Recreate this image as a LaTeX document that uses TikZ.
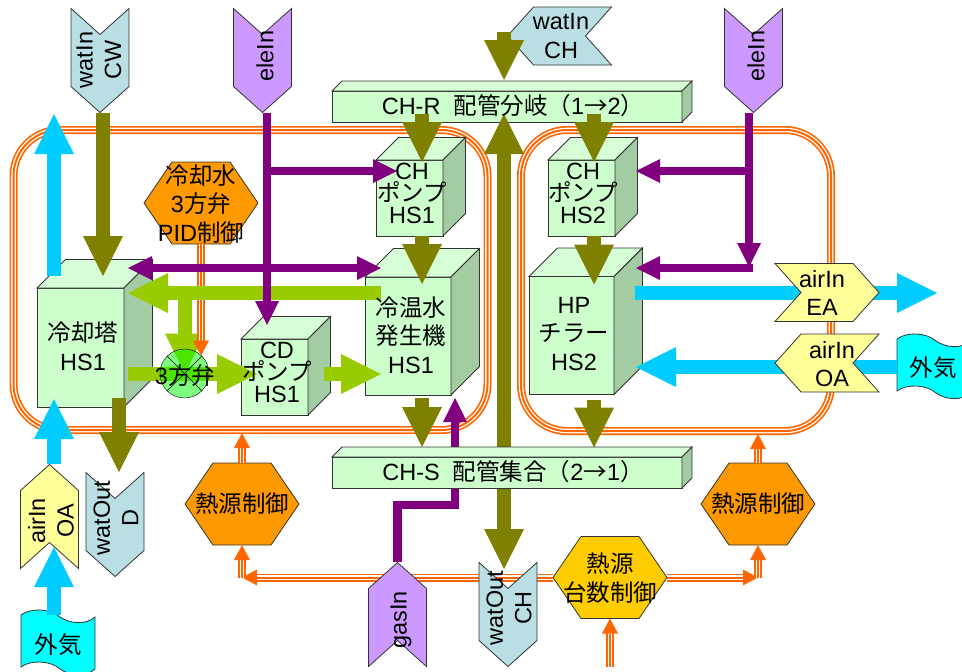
\documentclass[tikz,border=0pt]{standalone}
\usepackage{fontspec}
\setmainfont{Liberation Sans}
\newfontfamily\jp{Noto Sans CJK JP}
\usetikzlibrary{arrows.meta}

\definecolor{pipeOlive}{HTML}{808000}
\definecolor{pipePurple}{HTML}{800080}
\definecolor{pipeCyan}{HTML}{00CCFF}
\definecolor{pipeGreen}{HTML}{99CC00}
\definecolor{ctlOrange}{HTML}{FF6600}
\definecolor{faceGreen}{HTML}{CCFFCC}
\definecolor{topGreen}{HTML}{D6FFD6}
\definecolor{sideGreen}{HTML}{A3CCA3}
\definecolor{waterBlue}{HTML}{B9DFE4}
\definecolor{eleViolet}{HTML}{CC99FF}
\definecolor{airYellow}{HTML}{FFFF99}
\definecolor{hexOrange}{HTML}{FF9900}
\definecolor{hexGold}{HTML}{FFCC00}
\definecolor{skyCyan}{HTML}{00FFFF}

\tikzset{
  every node/.style={inner sep=0pt,outer sep=0pt,align=center,font=\fontsize{23.5}{28.5}\selectfont},
  pumpText/.style={font=\fontsize{23.5}{22}\selectfont},
  edgeLine/.style={draw=black!80,line width=0.8pt},
  frontFace/.style={edgeLine,fill=faceGreen},
  topFace/.style={edgeLine,fill=topGreen},
  sideFace/.style={edgeLine,fill=sideGreen},
  sigBoxV/.style={minimum width=58pt,minimum height=105pt},
  sigBoxH/.style={minimum width=105pt,minimum height=58pt},
  hexBox/.style={minimum width=114pt,minimum height=82pt},
  flowLine/.style={draw=#1,line width=14pt,-{Triangle[length=40pt,width=40pt,line width=0pt]}},
  eleLine/.style={draw=#1,line width=8.5pt,-{Triangle[length=24pt,width=24pt,line width=0pt]}},
  ctlLoop/.style={draw=ctlOrange,line width=8pt,postaction={draw=white,line width=4.6pt},postaction={draw=ctlOrange,line width=2pt}},
  ctlLine/.style={draw=ctlOrange,line width=8pt,shorten >=10pt,
    postaction={draw=white,line width=4.6pt,shorten >=10pt},
    postaction={draw=ctlOrange,line width=2pt,shorten >=0pt,-{Triangle[length=15pt,width=16pt,line width=0pt]}}},
}

\newcommand{\boxThreeD}[6]{%
  \node[frontFace,minimum width=#4pt,minimum height=#5pt] (#1) at (#2,#3) {};
  \draw[topFace] (#1.north west) -- ++(#6,-#6) -- ++(#4,0) -- (#1.north east) -- cycle;
  \draw[sideFace] (#1.north east) -- ++(#6,-#6) -- ++(0,#5) -- (#1.south east) -- cycle;
}
\newcommand{\sigBox}[6]{%
  \node[#6] (#1) at (#2,#3) {};
  \draw[edgeLine,fill=#5,shift={(#1.center)},rotate=#4] \sigShape;
}
\newcommand{\hexShape}[4]{%
  \node[hexBox] (#1) at (#2,#3) {};
  \draw[edgeLine,fill=#4] (#1.west) -- ([xshift=28pt]#1.north west) -- ([xshift=-28pt]#1.north east)
    -- (#1.east) -- ([xshift=-28pt]#1.south east) -- ([xshift=28pt]#1.south west) -- cycle;
}
\newcommand{\waveBox}[3]{%
  \node[minimum width=74pt,minimum height=52pt] (#1) at (#2,#3) {};
  \draw[edgeLine,fill=skyCyan,shift={(#1.center)}] (-37,-26) .. controls (-28,-33) and (-8,-33) .. (2,-24)
    .. controls (12,-17) and (28,-16) .. (37,-24) -- (37,28) .. controls (28,36) and (12,35) .. (2,28)
    .. controls (-8,19) and (-28,19) .. (-37,26) -- cycle;
}

\begin{document}
\begin{tikzpicture}[x=1pt,y=-1pt]
    \useasboundingbox (0,0) rectangle (962,672);
    \clip (0,0) rectangle (962,672);
    \def\sigShape{(-52,-29) -- (26,-29) -- (52,0) -- (26,29) -- (-52,29) -- (-26,0) -- cycle}

    % --- CONTROL LOOPS ---
    \node[ctlLoop,rounded corners=46pt,minimum width=474pt,minimum height=300pt] (loopA) at (250.5,280) {};
    \node[ctlLoop,rounded corners=46pt,minimum width=310pt,minimum height=301pt] (loopB) at (676,280.5) {};

    % --- CONTROLLERS ---
    \hexShape{hexA}{242}{504}{hexOrange}
    \hexShape{hexB}{758}{504}{hexOrange}
    \coordinate (ctlFeed) at (610,667);
    \draw[ctlLine] (hexA.north) -- ([yshift=-3pt]hexA.north |- loopA.south);
    \draw[ctlLine] (hexB.north) -- ([yshift=-3pt]hexB.north |- loopB.south);

    % --- UNITS ---
    \boxThreeD{tower}{80.5}{347.5}{87}{119}{28.5}
    \boxThreeD{pumpA}{409.5}{198}{67}{76}{22.5}
    \boxThreeD{chiller}{408}{336}{86}{118}{28.5}
    \boxThreeD{pumpCD}{274.5}{377}{67}{76}{22.5}
    \boxThreeD{pumpB}{581.5}{198}{67}{76}{22.5}
    \boxThreeD{heatPump}{571.5}{335.5}{85}{118}{28.5}
    \boxThreeD{headerR}{507}{106.5}{350}{31}{10}

    % --- SOURCES ---
    \sigBox{cwIn}{100}{60.5}{-90}{waterBlue}{sigBoxV}
    \sigBox{chIn}{559.5}{36}{180}{waterBlue}{sigBoxH}
    \sigBox{eleA}{262.5}{60.5}{-90}{eleViolet}{sigBoxV}
    \sigBox{eleB}{753.5}{60.5}{-90}{eleViolet}{sigBoxV}
    \sigBox{watD}{115}{524.5}{-90}{waterBlue}{sigBoxV}
    \waveBox{outA}{58}{641}
    \waveBox{outB}{934}{365}

    % --- AIR ---
    \coordinate (exhaustA) at (54,114);
    \coordinate (exhaustB) at (937,293);
    \draw[flowLine=pipeCyan] ([xshift=-26.5pt,yshift=12pt]tower.north) -- (exhaustA);
    \draw[flowLine=pipeCyan] ([xshift=21pt,yshift=42.5pt]heatPump.east) -- (exhaustB);
    \draw[flowLine=pipeCyan] ([yshift=-2pt]outB.west) -- ([xshift=22pt,yshift=-31.5pt]heatPump.east);
    \sigBox{airOA}{49.5}{516.5}{90}{airYellow}{sigBoxV}
    \draw[flowLine=pipeCyan] ([xshift=4.5pt]airOA.north) -- ([xshift=-26.5pt,yshift=8pt]tower.south);
    \draw[flowLine=pipeCyan] ([xshift=-4pt]outA.north) -- ([xshift=4.5pt,yshift=22pt]airOA.south);
    \sigBox{airEA}{827}{292.5}{0}{airYellow}{sigBoxH}
    \sigBox{airOB}{827}{363}{180}{airYellow}{sigBoxH}

    % --- CONTROL LINES ---
    \hexShape{hexMain}{610}{577.5}{hexGold}
    \draw[ctlLine] (ctlFeed) -- (hexMain.south);
    \draw[ctlLine] (hexMain.west) -- (hexMain.west -| hexA.south);
    \draw[ctlLine] (hexMain.west -| hexA.south) -- (hexA.south);
    \draw[ctlLine] (hexMain.east) -- (hexMain.east -| hexB.south);
    \draw[ctlLine] (hexMain.east -| hexB.south) -- (hexB.south);
    \sigBox{gasIn}{397.5}{614.5}{90}{eleViolet}{sigBoxV}
    \sigBox{watCH}{508}{614.5}{-90}{waterBlue}{sigBoxV}

    % --- COOLING WATER ---
    \hexShape{hexPID}{201}{203}{hexOrange}
    \node[minimum size=49pt,circle] (valve) at (184.5,373.5) {};
    \draw[flowLine=pipeGreen] (185,293) -- ([xshift=0.5pt]valve.center);
    \draw[flowLine=pipeGreen] ([xshift=4pt,yshift=-26.5pt]tower.east) -- ([xshift=16pt,yshift=3pt]pumpCD.west);
    \draw[fill=green,fill opacity=0.5] (valve.center) circle (24.5);
    \draw (valve.45) -- (valve.225);
    \draw (valve.135) -- (valve.315);
    \draw[ctlLine] (hexPID.south) -- (hexPID.south |- valve.47);
    \draw[flowLine=pipeGreen] ([xshift=16pt,yshift=43pt]chiller.west) -- ([xshift=4pt,yshift=54.5pt]tower.east);
    \draw[flowLine=pipeGreen] ([xshift=16pt,yshift=3pt]pumpCD.east) -- ([xshift=16pt,yshift=-38pt]chiller.west);

    % --- ELECTRICITY AND GAS ---
    \draw[eleLine=pipePurple] ([xshift=4.5pt]eleA.south) -- ([xshift=-7.5pt,yshift=14pt]pumpCD.north);
    \draw[eleLine=pipePurple] ([xshift=4.5pt,yshift=-58pt]eleA.south) -- ([xshift=21pt,yshift=27pt]pumpA.west);
    \draw[draw=pipePurple,line width=8.5pt,{Triangle[length=24pt,width=24pt,line width=0pt]}-{Triangle[length=24pt,width=24pt,line width=0pt]}]
      ([xshift=4pt,yshift=79.5pt]tower.east) -- ([xshift=16pt,yshift=68pt]chiller.west);
    \draw[eleLine=pipePurple] ([xshift=-4.5pt]eleB.south) -- ([xshift=-4.5pt,yshift=-154pt]eleB.south);
    \draw[eleLine=pipePurple] ([xshift=-4.5pt,yshift=-58pt]eleB.south) -- ([xshift=21pt,yshift=27pt]pumpB.east);
    \draw[eleLine=pipePurple] ([xshift=-0.5pt,yshift=-155pt]eleB.south) -- ([xshift=22pt,yshift=67.5pt]heatPump.east);
    \draw[eleLine=pipePurple] (gasIn.north) -- ++(0,-57) -| ([xshift=-52pt,yshift=-3pt]chiller.south -| headerR.north);

    % --- CHILLED WATER ---
    \draw[flowLine=pipeOlive] ([xshift=3pt]cwIn.south) -- ([xshift=22.5pt,yshift=12pt]tower.north);
    \draw[flowLine=pipeOlive] ([xshift=-55.5pt,yshift=4pt]chIn.center) -- ([xshift=-3pt,yshift=11pt]headerR.north);
    \draw[flowLine=pipeOlive] ([xshift=-85pt,yshift=8pt]headerR.south) -- ([xshift=12.5pt,yshift=-2pt]pumpA.north);
    \draw[flowLine=pipeOlive] ([xshift=12.5pt]pumpA.south) -- ([xshift=14pt,yshift=-7pt]chiller.north);
    \draw[flowLine=pipeOlive] ([xshift=14pt,yshift=-3pt]chiller.south) -- ([xshift=14pt,yshift=-52pt]chiller.south);
    \draw[flowLine=pipeOlive] ([xshift=87pt,yshift=8pt]headerR.south) -- ([xshift=12.5pt,yshift=-2pt]pumpB.north);
    \draw[flowLine=pipeOlive] ([xshift=12.5pt]pumpB.south) -- ([xshift=22.5pt,yshift=-8pt]heatPump.north);
    \draw[flowLine=pipeOlive] ([xshift=22.5pt,yshift=-5pt]heatPump.south) -- ([xshift=22.5pt,yshift=-53pt]heatPump.south);
    \draw[flowLine=pipeOlive] ([xshift=38.5pt,yshift=9pt]tower.south) -- ([xshift=4pt]watD.north);
    \draw[flowLine=pipeOlive] ([xshift=-4pt,yshift=115pt]watCH.north) -- ([xshift=-3pt,yshift=8pt]headerR.south);
    \draw[flowLine=pipeOlive] ([xshift=-4pt,yshift=74pt]watCH.north) -- ([xshift=-4pt,yshift=-7pt]watCH.north);
    \boxThreeD{headerS}{507}{472.5}{350}{31}{10}

    % --- LABELS ---
    \node[rotate=90] (cwText) at (99,60) {watIn\\CW};
    \node (chText) at (561,36) {watIn\\CH};
    \node[rotate=90] (eleAText) at (265,56) {eleIn};
    \node[rotate=90] (eleBText) at (756,56) {eleIn};
    \node (headerRText) at (513,106) {CH-R\ \ {\jp 配管分岐（}1{\jp →}2{\jp ）}};
    \node (headerSText) at (513,472) {CH-S\ \ {\jp 配管集合（}2{\jp →}1{\jp ）}};
    \node (pidText) at (201,204) {{\jp 冷却水}\\3{\jp 方弁}\\PID{\jp 制御}};
    \node (towerText) at (83,346) {{\jp 冷却塔}\\HS1};
    \node[pumpText] (pumpAText) at (412,193) {CH\\{\jp ポンプ}\\HS1};
    \node[pumpText] (pumpCDText) at (277,372) {CD\\{\jp ポンプ}\\HS1};
    \node[pumpText] (pumpBText) at (583,193) {CH\\{\jp ポンプ}\\HS2};
    \node (chillerText) at (411,335) {{\jp 冷温水}\\{\jp 発生機}\\HS1};
    \node (heatPumpText) at (574,334) {HP\\{\jp チラー}\\HS2};
    \node (valveText) at (185,376) {3{\jp 方弁}};
    \node (airEAText) at (822,293) {airIn\\EA};
    \node (airOBText) at (832,364) {airIn\\OA};
    \node[rotate=90] (airOAText) at (51,521) {airIn\\OA};
    \node[rotate=90] (watDText) at (116,518) {watOut\\D};
    \node[rotate=90] (gasText) at (401,620) {gasIn};
    \node[rotate=90] (watCHText) at (509,608) {watOut\\CH};
    \node (outAText) at (58,645) {\jp 外気};
    \node (outBText) at (933,368) {\jp 外気};
    \node (hexAText) at (242,504) {\jp 熱源制御};
    \node (hexBText) at (758,504) {\jp 熱源制御};
    \node (hexMainText) at (610,578) {{\jp 熱源}\\{\jp 台数制御}};
\end{tikzpicture}
\end{document}
